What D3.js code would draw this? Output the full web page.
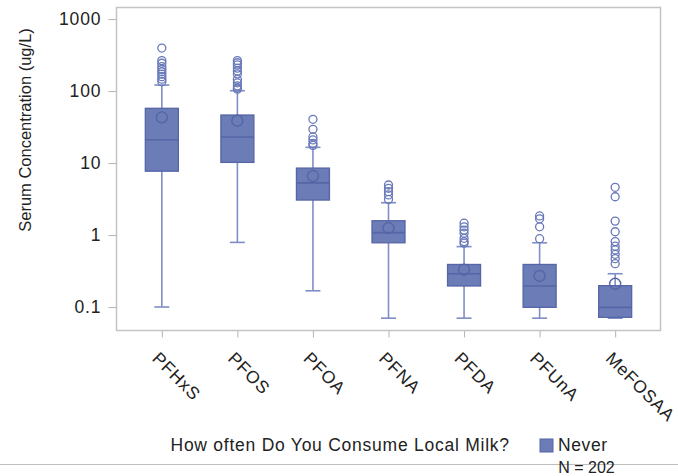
<!DOCTYPE html>
<html>
<head>
<meta charset="utf-8">
<script src="https://cdn.jsdelivr.net/npm/d3@7"></script>
<style>
  body { margin: 0; background: #fff; }
  text { font-family: "Liberation Sans", Arial, sans-serif; fill: #222; }
</style>
</head>
<body>
<svg id="chart" width="678" height="476"></svg>
<script>
// chart data
var categories = ["PFHxS", "PFOS", "PFOA", "PFNA", "PFDA", "PFUnA", "MeFOSAA"];
var whiskerLow = [0.1, 0.79, 0.168, 0.07, 0.07, 0.07, 0.07];
var q1 = [7.7, 10.2, 3.06, 0.78, 0.196, 0.099, 0.072];
var median = [21, 23, 5.3, 1.08, 0.29, 0.196, 0.099];
var q3 = [57.5, 46.4, 8.5, 1.58, 0.39, 0.39, 0.198];
var whiskerHigh = [121, 101, 16.5, 2.81, 0.69, 0.78, 0.29];
var means = [43, 38.7, 6.6, 1.25, 0.33, 0.27, 0.21];
var outliers = [
  [395, 264, 243, 218, 200, 185, 172, 158, 146, 135],
  [264, 247, 230, 208, 190, 173, 145, 130, 118, 110, 106],
  [40.5, 29.4, 23, 20.9, 18.8, 17.6],
  [4.95, 4.45, 4.0, 3.6, 3.13],
  [1.46, 1.30, 1.17, 1.06, 0.90, 0.81, 0.77],
  [1.84, 1.68, 1.30, 0.89],
  [4.6, 3.4, 1.56, 1.11, 0.81, 0.70, 0.62, 0.54, 0.47, 0.40]
];
var yTicks = [0.1, 1, 10, 100, 1000];
var yTickLabels = ["0.1", "1", "10", "100", "1000"];
var legendTitle = "How often Do You Consume Local Milk?";
var legendLabel = "Never";
var nLabel = "N = 202";

var fillCol = "#6c7cb7", edgeCol = "#5565a6", whiskCol = "#7f8ec6";

var svg = d3.select("#chart");
var margin = {left: 116.5, top: 7.5, right: 17.5, bottom: 145.5};
var w = 678 - margin.left - margin.right,
    h = 476 - margin.top - margin.bottom;

var g = svg.append("g").attr("transform", `translate(${margin.left},${margin.top})`);

var x = d3.scalePoint().domain(categories).range([0, w]).padding(0.6);
var y = d3.scaleLog().domain([0.0472, 1445]).range([h, 0]);

// y axis
var yAxis = g.append("g")
  .call(d3.axisLeft(y).tickValues(yTicks)
    .tickFormat(function(d, i){ return yTickLabels[i]; })
    .tickSize(8).tickPadding(7));
yAxis.select(".domain").remove();
yAxis.selectAll("line").attr("stroke", "#b4b4b4");
yAxis.selectAll("text").style("font-size", "17.5px")
  .style("letter-spacing", "0.9px").attr("fill", "#222");

// x axis
var xAxis = g.append("g").attr("transform", `translate(0,${h})`)
  .call(d3.axisBottom(x).tickSize(7));
xAxis.select(".domain").remove();
xAxis.selectAll("line").attr("stroke", "#b4b4b4");
xAxis.selectAll("text")
  .attr("y", 0).attr("dy", 0)
  .attr("text-anchor", "start")
  .attr("transform", "translate(-11,29) rotate(45)")
  .style("font-size", "17.5px").style("letter-spacing", "0.8px").attr("fill", "#222");

// frame
g.append("rect").attr("width", w).attr("height", h)
  .attr("fill", "none").attr("stroke", "#c4c4c4").attr("stroke-width", 1.5);

var boxW = 33, capW = 15;

categories.forEach(function(c, i) {
  var cx = x(c);
  var bg = g.append("g");
  // whiskers
  bg.append("line").attr("x1", cx).attr("x2", cx)
    .attr("y1", y(whiskerLow[i])).attr("y2", y(q1[i]))
    .attr("stroke", whiskCol).attr("stroke-width", 1.6);
  bg.append("line").attr("x1", cx).attr("x2", cx)
    .attr("y1", y(q3[i])).attr("y2", y(whiskerHigh[i]))
    .attr("stroke", whiskCol).attr("stroke-width", 1.6);
  [whiskerLow[i], whiskerHigh[i]].forEach(function(v) {
    bg.append("line").attr("x1", cx - capW / 2).attr("x2", cx + capW / 2)
      .attr("y1", y(v)).attr("y2", y(v))
      .attr("stroke", whiskCol).attr("stroke-width", 1.6);
  });
  // box
  bg.append("rect").attr("x", cx - boxW / 2).attr("width", boxW)
    .attr("y", y(q3[i])).attr("height", y(q1[i]) - y(q3[i]))
    .attr("fill", fillCol).attr("stroke", edgeCol).attr("stroke-width", 1.3);
  bg.append("line").attr("x1", cx - boxW / 2).attr("x2", cx + boxW / 2)
    .attr("y1", y(median[i])).attr("y2", y(median[i]))
    .attr("stroke", edgeCol).attr("stroke-width", 1.6);
  // mean
  bg.append("circle").attr("cx", cx).attr("cy", y(means[i])).attr("r", 5.5)
    .attr("fill", "none").attr("stroke", edgeCol).attr("stroke-width", 1.4);
  // outliers
  bg.selectAll("circle.out").data(outliers[i]).enter().append("circle")
    .attr("class", "out")
    .attr("cx", cx).attr("cy", function(d){ return y(d); }).attr("r", 4)
    .attr("fill", "none").attr("stroke", "#6878b8").attr("stroke-width", 1.3);
});

// y title
svg.append("text").attr("transform", "translate(31,130) rotate(-90)")
  .attr("text-anchor", "middle").style("font-size", "16.5px")
  .text("Serum Concentration (ug/L)");

// legend
svg.append("text").attr("x", 170.5).attr("y", 451).style("font-size", "17.5px")
  .style("letter-spacing", "0.75px").text(legendTitle);
svg.append("rect").attr("x", 540).attr("y", 439).attr("width", 13).attr("height", 13)
  .attr("fill", fillCol).attr("stroke", edgeCol);
svg.append("text").attr("x", 558).attr("y", 451).style("font-size", "17.5px")
  .style("letter-spacing", "0.6px").text(legendLabel);
svg.append("line").attr("x1", 0).attr("x2", 678).attr("y1", 464.5).attr("y2", 464.5)
  .attr("stroke", "#bdbdbd");
svg.append("text").attr("x", 586.5).attr("y", 473).attr("text-anchor", "middle")
  .style("font-size", "16px").text(nLabel);
</script>
</body>
</html>
